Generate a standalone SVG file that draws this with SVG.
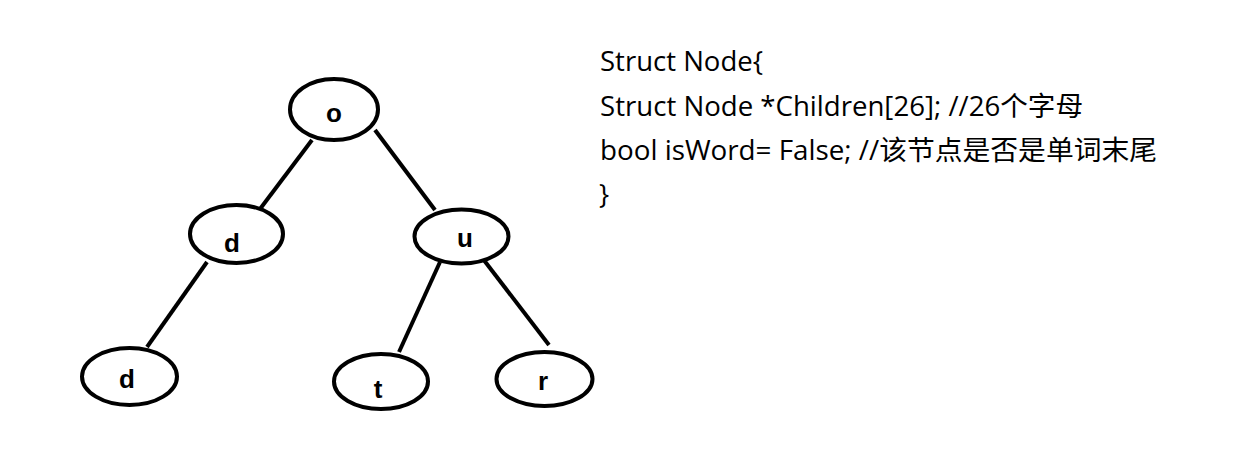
<svg xmlns="http://www.w3.org/2000/svg" width="1240" height="473" viewBox="0 0 1240 473">
<style>
.node ellipse{fill:#fff;stroke:#000;stroke-width:4}
.node text{font-family:"Liberation Sans",Arial,sans-serif;font-weight:bold;font-size:26px;fill:#000;text-anchor:middle}
.edges line{stroke:#000;stroke-width:4}
.code{font-family:"Open Sans","Noto Sans CJK SC",sans-serif;font-size:27px;fill:#000}
</style>
<rect width="1240" height="473" fill="#fff"/>
<g class="edges" id="connectors">
<line x1="312" y1="140" x2="257" y2="213"/>
<line x1="375" y1="130" x2="435" y2="210"/>
<line x1="207" y1="262" x2="147" y2="347"/>
<line x1="440" y1="262" x2="399" y2="352"/>
<line x1="480" y1="255" x2="549" y2="345"/>
</g>
<g class="node" id="node-o"><ellipse cx="334" cy="109.5" rx="44" ry="30.5"/><text x="334" y="122">o</text></g>
<g class="node" id="node-d1"><ellipse cx="236.5" cy="234" rx="46.5" ry="29"/><text x="232" y="252">d</text></g>
<g class="node" id="node-u"><ellipse cx="461.5" cy="236.5" rx="47" ry="27"/><text x="465" y="247">u</text></g>
<g class="node" id="node-d2"><ellipse cx="129.5" cy="376.5" rx="47.5" ry="28.5"/><text x="127" y="388">d</text></g>
<g class="node" id="node-t"><ellipse cx="381" cy="381.5" rx="47" ry="27.5"/><text x="378" y="398">t</text></g>
<g class="node" id="node-r"><ellipse cx="544.5" cy="379" rx="48" ry="27"/><text x="543" y="390">r</text></g>
<g id="code">
<text class="code" x="600" y="71" textLength="163" lengthAdjust="spacingAndGlyphs">Struct Node{</text>
<text class="code" x="600" y="115.5" textLength="483" lengthAdjust="spacingAndGlyphs">Struct Node *Children[26]; //26个字母</text>
<text class="code" x="600" y="160" textLength="557" lengthAdjust="spacingAndGlyphs">bool isWord= False; //该节点是否是单词末尾</text>
<text class="code" x="599" y="204">}</text>
</g>
</svg>
